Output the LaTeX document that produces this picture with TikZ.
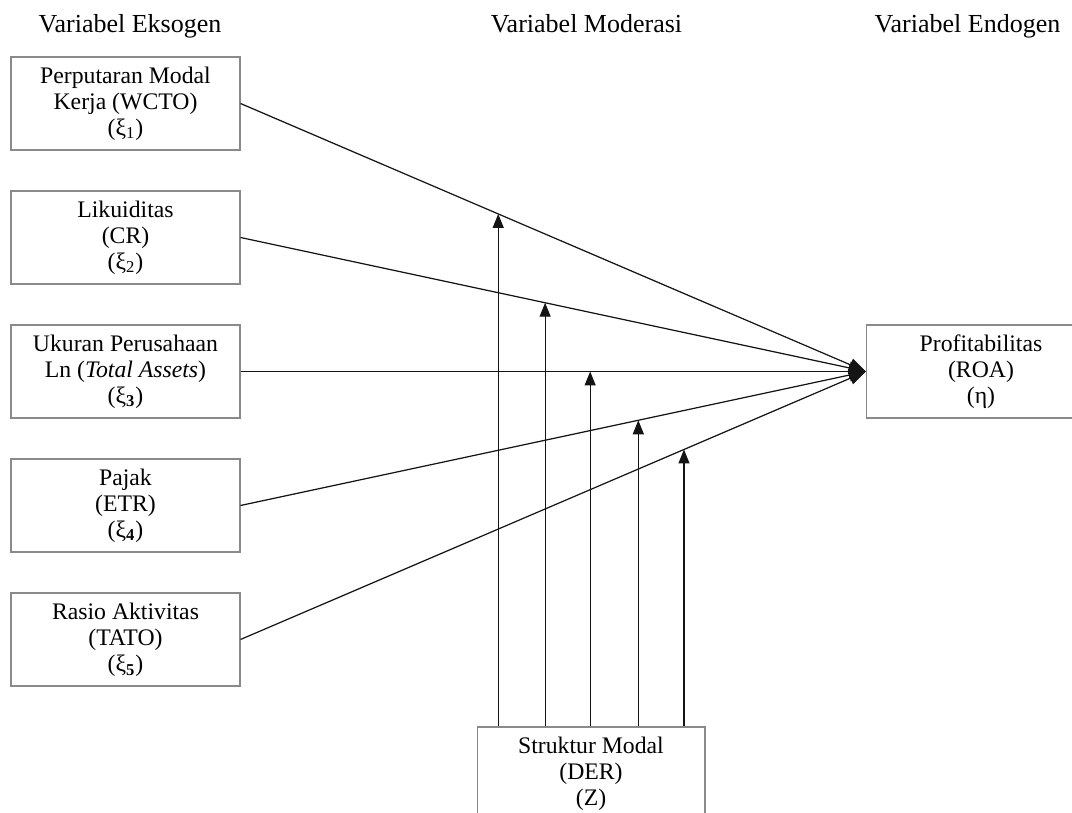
\documentclass[tikz,border=0pt]{standalone}
\usepackage{fontspec}
\setmainfont{Liberation Serif}
\usetikzlibrary{arrows.meta,positioning}
\definecolor{BoxGray}{HTML}{8A8A8A}
\definecolor{LineInk}{HTML}{141414}
\tikzset{
  varbox/.style={draw=BoxGray,line width=0.6pt,minimum width=4.58cm,minimum height=1.86cm,
    align=center,inner sep=0pt,font=\fontsize{13.5}{14.8}\selectfont},
  headlabel/.style={anchor=base,inner sep=0pt,font=\fontsize{14.8}{16}\selectfont},
  effect/.style={draw=LineInk,line width=0.7pt,-{Triangle[length=0.34cm,width=0.26cm]}},
  moderate/.style={draw=LineInk,line width=0.7pt,-{Triangle[length=0.28cm,width=0.22cm]}}
}
% effect line to ROA, with the moderating arrow from DER onto it
\newcommand{\effectline}[3]{%
  \draw[effect] (#1.east) -- (roa.west) coordinate[pos=#2] (#3);
  \draw[moderate] (#3 |- der.north) -- (#3);
}

\begin{document}
\begin{tikzpicture}[x=0.02cm,y=-0.02cm]
  \useasboundingbox (0,0) rectangle (1072,813);

  \node[headlabel] (hexo) at (130,33) {Variabel Eksogen};
  \node[headlabel] (hmod) at (586.5,33) {Variabel Moderasi};
  \node[headlabel] (hendo) at (967.5,33) {Variabel Endogen};

  \node[varbox] (wcto) at (125.5,103.5) {Perputaran Modal\\Kerja (WCTO)\\(ξ\textsubscript{1})};
  \node[varbox] (cr) at (125.5,237.5) {Likuiditas\\(CR)\\(ξ\textsubscript{2})};
  \node[varbox] (size) at (125.5,371.5) {Ukuran Perusahaan\\Ln (\textit{Total Assets})\\(ξ\textsubscript{\textbf{3}})};
  \node[varbox] (etr) at (125.5,505.5) {Pajak\\(ETR)\\(ξ\textsubscript{\textbf{4}})};
  \node[varbox] (tato) at (125.5,639.5) {Rasio Aktivitas\\(TATO)\\(ξ\textsubscript{\textbf{5}})};

  \node[varbox] (roa) at (981,371.5) {Profitabilitas\\(ROA)\\(η)};
  \node[varbox,minimum width=4.56cm] (der) at (591,773.5) {Struktur Modal\\(DER)\\(Z)};

  \effectline{wcto}{0.412}{m1}
  \effectline{cr}{0.487}{m2}
  \effectline{size}{0.559}{m3}
  \effectline{etr}{0.636}{m4}
  \effectline{tato}{0.709}{m5}
\end{tikzpicture}
\end{document}
